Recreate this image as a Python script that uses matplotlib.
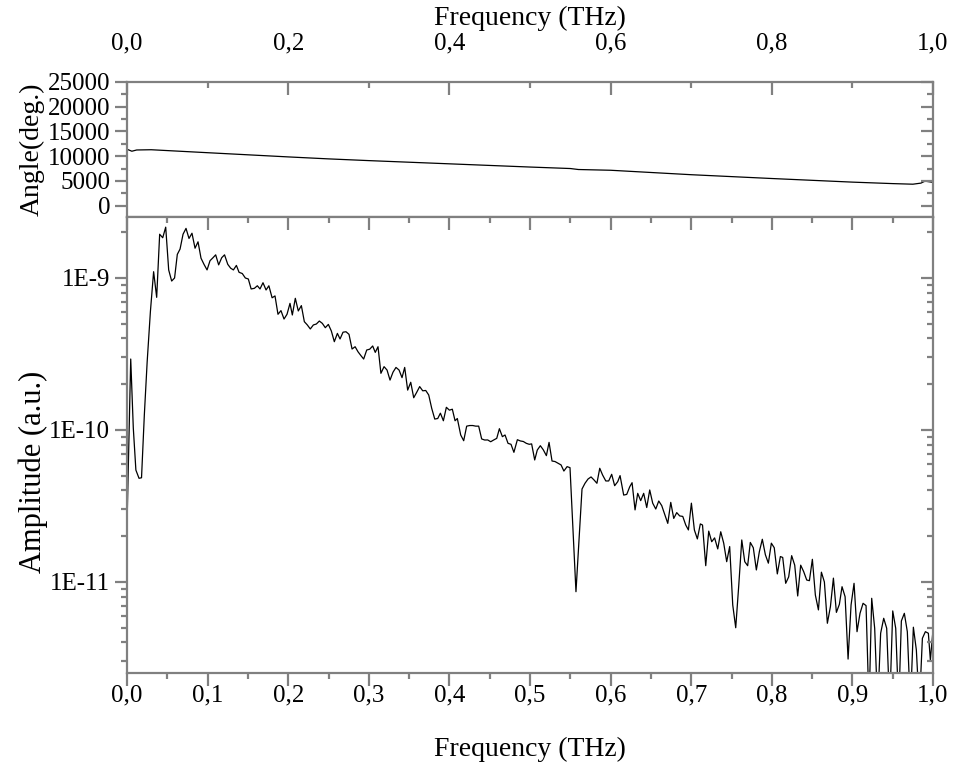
import numpy as np
import matplotlib
matplotlib.use("Agg")
import matplotlib.pyplot as plt
from matplotlib.ticker import MultipleLocator, FixedLocator, FuncFormatter, LogLocator, NullFormatter

plt.rcParams['font.family'] = ['Liberation Serif', 'DejaVu Serif']
plt.rcParams['font.size'] = 18
plt.rcParams['axes.labelsize'] = 20

# Phase (top panel)
angle_freq = [0.0, 0.006, 0.012, 0.03, 0.1, 0.2, 0.25, 0.3, 0.4, 0.5, 0.55,
              0.56, 0.6, 0.7, 0.8, 0.9, 0.95, 0.975, 0.985, 0.99, 1.0]
angle = [11400, 11000, 11250, 11300, 10700, 9850, 9450, 9100, 8450, 7800, 7500,
         7300, 7150, 6250, 5480, 4750, 4450, 4330, 4550, 4950, 4700]

# Amplitude spectrum (bottom panel) in chunks
freq_a = [0.0, 0.0046, 0.0078, 0.011, 0.0149, 0.018, 0.0215, 0.025, 0.029, 0.033,
          0.0368, 0.0405, 0.0443, 0.048, 0.0517, 0.0554, 0.059, 0.0624, 0.0658, 0.0695,
          0.0732, 0.0769, 0.0806, 0.0844, 0.0881, 0.0918, 0.0955, 0.0993, 0.103, 0.1067,
          0.110, 0.1137, 0.1175, 0.121, 0.125, 0.1286, 0.132, 0.1357, 0.139, 0.143,
          0.1468, 0.1505, 0.154, 0.158, 0.1617, 0.165, 0.1687, 0.1725, 0.176, 0.18,
          0.1836, 0.1873, 0.191, 0.1948, 0.1985, 0.2022]
amp_a = [2.37e-11, 2.93e-10, 1.03e-10, 5.45e-11, 4.81e-11, 4.85e-11, 1.26e-10, 2.81e-10, 6.0e-10, 1.10e-9,
         7.46e-10, 1.94e-9, 1.84e-9, 2.16e-9, 1.13e-9, 9.55e-10, 1.00e-9, 1.43e-9, 1.55e-9, 1.94e-9,
         2.12e-9, 1.82e-9, 1.97e-9, 1.57e-9, 1.73e-9, 1.35e-9, 1.23e-9, 1.13e-9, 1.30e-9, 1.36e-9,
         1.42e-9, 1.22e-9, 1.36e-9, 1.42e-9, 1.23e-9, 1.16e-9, 1.13e-9, 1.21e-9, 1.09e-9, 1.07e-9,
         1.00e-9, 9.85e-10, 8.47e-10, 8.55e-10, 8.89e-10, 8.47e-10, 9.31e-10, 8.34e-10, 8.89e-10, 7.41e-10,
         7.62e-10, 5.77e-10, 6.10e-10, 5.37e-10, 5.77e-10, 6.81e-10]

freq_b = [0.2051, 0.2088, 0.2125, 0.2163, 0.22, 0.2237, 0.2274, 0.2312, 0.2349, 0.2386,
          0.2423, 0.246, 0.2498, 0.2535, 0.2572, 0.261, 0.2643, 0.268, 0.2717, 0.2754,
          0.2792, 0.283, 0.2866, 0.2903, 0.2936, 0.2974, 0.3011, 0.3048, 0.308, 0.3114,
          0.315, 0.3189, 0.3226, 0.3263, 0.33, 0.3337, 0.3375, 0.3412, 0.3445, 0.3482,
          0.352, 0.3557, 0.3594, 0.3631, 0.3669, 0.3706, 0.3743, 0.378, 0.3818, 0.3855,
          0.3888, 0.3925, 0.3962, 0.40, 0.4036, 0.407]
amp_b = [5.71e-10, 7.35e-10, 6.07e-10, 6.58e-10, 5.16e-10, 4.91e-10, 4.62e-10, 4.91e-10, 4.98e-10, 5.21e-10,
         5.03e-10, 4.71e-10, 4.95e-10, 4.48e-10, 3.81e-10, 4.32e-10, 3.97e-10, 4.40e-10, 4.43e-10, 4.26e-10,
         3.41e-10, 3.53e-10, 3.27e-10, 3.08e-10, 2.93e-10, 3.36e-10, 3.40e-10, 3.57e-10, 3.24e-10, 3.53e-10,
         2.36e-10, 2.61e-10, 2.48e-10, 2.13e-10, 2.40e-10, 2.58e-10, 2.48e-10, 2.21e-10, 2.58e-10, 1.83e-10,
         2.06e-10, 1.63e-10, 1.77e-10, 1.93e-10, 1.81e-10, 1.82e-10, 1.70e-10, 1.39e-10, 1.18e-10, 1.19e-10,
         1.29e-10, 1.15e-10, 1.41e-10, 1.35e-10, 1.37e-10, 1.15e-10]

freq_c = [0.4098, 0.414, 0.4177, 0.4214, 0.4252, 0.4289, 0.4326, 0.4363, 0.44, 0.4438,
          0.4475, 0.4512, 0.455, 0.4587, 0.462, 0.4657, 0.469, 0.4727, 0.4764, 0.48,
          0.4843, 0.488, 0.4917, 0.4954, 0.499, 0.502, 0.5058, 0.509, 0.5128, 0.5165,
          0.5203, 0.5236, 0.5273, 0.531, 0.5347, 0.5385, 0.542, 0.546, 0.5496, 0.557,
          0.5645, 0.5682, 0.572, 0.5757, 0.5794, 0.583, 0.5865, 0.59, 0.594, 0.5976,
          0.6013, 0.605, 0.6088]
amp_c = [1.19e-10, 9.27e-11, 8.5e-11, 1.06e-10, 1.07e-10, 1.07e-10, 1.06e-10, 1.06e-10, 8.73e-11, 8.59e-11,
         8.6e-11, 8.37e-11, 8.6e-11, 8.81e-11, 1.02e-10, 9.04e-11, 9.27e-11, 8.17e-11, 8.05e-11, 7.13e-11,
         8.63e-11, 8.47e-11, 8.4e-11, 8.17e-11, 8.05e-11, 8.1e-11, 6.35e-11, 7.38e-11, 7.88e-11, 7.4e-11,
         6.78e-11, 8.29e-11, 6.25e-11, 6.2e-11, 6.04e-11, 5.89e-11, 5.37e-11, 5.74e-11, 5.65e-11, 8.63e-12,
         4.09e-11, 4.46e-11, 4.76e-11, 4.91e-11, 4.69e-11, 4.46e-11, 5.60e-11, 5.06e-11, 4.62e-11, 4.62e-11,
         5.11e-11, 4.30e-11, 4.57e-11]

freq_d = [0.6117, 0.6162, 0.62, 0.6237, 0.6266, 0.6303, 0.6336, 0.6373, 0.641, 0.6448,
          0.6485, 0.6522, 0.656, 0.6597, 0.6634, 0.6671, 0.6709, 0.6746, 0.6783, 0.682,
          0.6857, 0.6895, 0.6932, 0.6965, 0.7002, 0.7039, 0.7076, 0.7113, 0.714, 0.718,
          0.7217, 0.7254, 0.729, 0.7329, 0.7366, 0.7403, 0.744, 0.7477, 0.7515, 0.7552,
          0.759, 0.7627, 0.7664, 0.77, 0.7733, 0.777, 0.7808, 0.7845, 0.7882, 0.792,
          0.7957, 0.7994, 0.803, 0.8068, 0.8106]
amp_d = [5.01e-11, 3.73e-11, 3.77e-11, 4.23e-11, 4.50e-11, 2.98e-11, 3.83e-11, 3.43e-11, 3.83e-11, 3.09e-11,
         4.03e-11, 3.30e-11, 3.02e-11, 3.41e-11, 3.18e-11, 2.79e-11, 2.43e-11, 3.34e-11, 2.62e-11, 2.86e-11,
         2.72e-11, 2.70e-11, 2.37e-11, 2.20e-11, 3.30e-11, 2.20e-11, 1.92e-11, 2.41e-11, 2.37e-11, 1.28e-11,
         2.16e-11, 1.84e-11, 1.95e-11, 1.65e-11, 2.14e-11, 1.80e-11, 1.36e-11, 1.71e-11, 7.06e-12, 5.00e-12,
         9.55e-12, 1.89e-11, 1.36e-11, 1.28e-11, 1.82e-11, 1.68e-11, 1.20e-11, 1.58e-11, 1.91e-11, 1.51e-11,
         1.33e-11, 1.80e-11, 1.68e-11, 1.13e-11, 1.47e-11]

freq_e = [0.8135, 0.8172, 0.8209, 0.8246, 0.8284, 0.8321, 0.8358, 0.8395, 0.8433, 0.8466,
          0.8503, 0.854, 0.8578, 0.8615, 0.8652, 0.8689, 0.8727, 0.8764, 0.8801, 0.8838,
          0.8871, 0.8909, 0.8946, 0.8983, 0.902, 0.9057, 0.9094, 0.9132, 0.9169, 0.9206,
          0.9239, 0.9276, 0.9313, 0.935, 0.9388, 0.9425, 0.9462, 0.95, 0.9537, 0.9574,
          0.9607, 0.9644, 0.9681, 0.9719, 0.9756, 0.9793, 0.983, 0.9868, 0.9905, 0.9942,
          0.9967, 1.0]
amp_e = [1.45e-11, 9.8e-12, 1.08e-11, 1.49e-11, 1.29e-11, 8.09e-12, 1.29e-11, 1.17e-11, 1.03e-11, 1.02e-11,
         1.41e-11, 8.21e-12, 6.55e-12, 1.16e-11, 1.00e-11, 5.35e-12, 6.89e-12, 1.06e-11, 6.31e-12, 7.13e-12,
         9.31e-12, 8.0e-12, 3.11e-12, 7.06e-12, 9.8e-12, 4.71e-12, 6.22e-12, 7.24e-12, 6.99e-12, 1.5e-12,
         7.81e-12, 4.96e-12, 1.5e-12, 4.6e-12, 5.77e-12, 4.96e-12, 1.5e-12, 6.45e-12, 4.96e-12, 1.5e-12,
         5.54e-12, 6.22e-12, 4.71e-12, 1.5e-12, 5.04e-12, 3.57e-12, 1.5e-12, 4.26e-12, 4.71e-12, 4.6e-12,
         3.07e-12, 4.85e-12]

freq = np.array(freq_a + freq_b + freq_c + freq_d + freq_e)
amp = np.array(amp_a + amp_b + amp_c + amp_d + amp_e)

gray = '#808080'
major_ticks = [1e-11, 1e-10, 1e-9]

def comma(v, pos):
    return ('%.1f' % v).replace('.', ',')

def sci(v, pos):
    return '1E%d' % int(round(np.log10(v)))

def style(ax, direction='out', **kw):
    for s in ax.spines.values():
        s.set_color(gray)
        s.set_linewidth(1.6)
    ax.tick_params(which='both', colors=gray, labelcolor='black', width=1.6,
                   direction=direction, pad=3, **kw)
    ax.tick_params(which='major', length=9)
    ax.tick_params(which='minor', length=4.5)

def bare(ax):
    for s in ax.spines.values():
        s.set_visible(False)

fig = plt.figure(figsize=(9.55, 7.67), dpi=100)
ax1 = fig.add_axes([0.133, 0.7171, 0.844, 0.176])
ax2 = fig.add_axes([0.133, 0.1226, 0.844, 0.5945])

# top panel: phase
ax1.plot(angle_freq, angle, color='black', lw=0.9)
ax1.set_xlim(0, 1)
ax1.set_ylim(-2300, 25000)
ax1.yaxis.set_major_locator(MultipleLocator(5000))
ax1.yaxis.set_minor_locator(MultipleLocator(2500))
ax1.xaxis.set_major_locator(MultipleLocator(0.2))
ax1.xaxis.set_minor_locator(MultipleLocator(0.1))
ax1.xaxis.set_major_formatter(FuncFormatter(comma))
ax1.xaxis.tick_top()
ax1.xaxis.set_label_position('top')
ax1.set_xlabel('Frequency (THz)', labelpad=5)
ax1.set_ylabel('Angle(deg.)', labelpad=2)
style(ax1)
ax1.tick_params(axis='x', which='both', direction='in', top=True, bottom=False)
ax1.tick_params(axis='x', which='major', pad=20)

# bottom panel: amplitude
ax2.plot(freq, amp, color='black', lw=0.9)
ax2.set_yscale('log')
ax2.set_xlim(0, 1)
ax2.set_ylim(2.52e-12, 2.52e-9)
ax2.xaxis.set_major_locator(MultipleLocator(0.1))
ax2.xaxis.set_minor_locator(MultipleLocator(0.05))
ax2.xaxis.set_major_formatter(FuncFormatter(comma))
ax2.yaxis.set_major_locator(FixedLocator(major_ticks))
ax2.yaxis.set_major_formatter(FuncFormatter(sci))
ax2.yaxis.set_minor_locator(LogLocator(base=10, subs=np.arange(2, 10), numticks=20))
ax2.yaxis.set_minor_formatter(NullFormatter())
ax2.set_xlabel('Frequency (THz)', labelpad=22)
ax2.set_ylabel('Amplitude (a.u.)', fontsize=22)
ax2.yaxis.set_label_coords(-0.098, 0.44)
style(ax2)
ax2.tick_params(axis='x', which='both', top=False)
ax2.tick_params(axis='x', which='major', pad=-1)

# inward ticks on right and top edges via twin axes
r1 = ax1.twinx()
r1.set_ylim(ax1.get_ylim())
r1.yaxis.set_major_locator(MultipleLocator(5000))
r1.yaxis.set_minor_locator(MultipleLocator(2500))
style(r1, direction='in', labelright=False)
bare(r1)

r2 = ax2.twinx()
r2.set_yscale('log')
r2.set_ylim(ax2.get_ylim())
r2.yaxis.set_major_locator(FixedLocator(major_ticks))
r2.yaxis.set_minor_locator(LogLocator(base=10, subs=np.arange(2, 10), numticks=20))
r2.yaxis.set_minor_formatter(NullFormatter())
style(r2, direction='in', labelright=False)
bare(r2)

t2 = ax2.twiny()
t2.set_xlim(0, 1)
t2.xaxis.set_major_locator(MultipleLocator(0.1))
t2.xaxis.set_minor_locator(MultipleLocator(0.05))
style(t2, direction='in', labeltop=False)
bare(t2)

fig.savefig('out.png', dpi=100)
